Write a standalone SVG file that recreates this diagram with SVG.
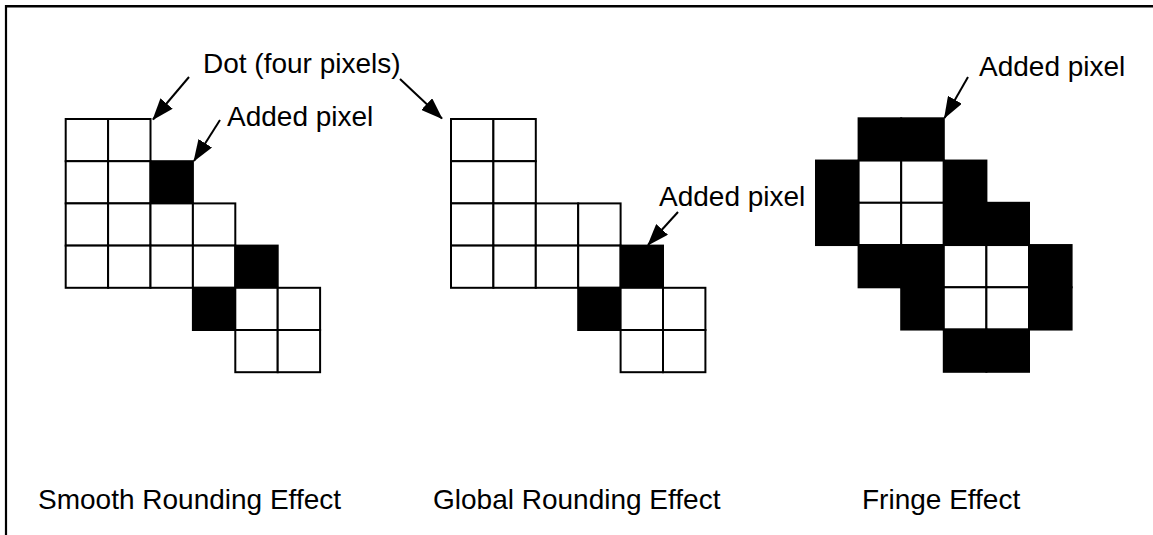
<svg xmlns="http://www.w3.org/2000/svg" width="1153" height="535" viewBox="0 0 1153 535">
<style>
.w{fill:#fff;stroke:#000;stroke-width:2}
.b{fill:#000;stroke:#000;stroke-width:2}
.t{font-family:"Liberation Sans",Arial,Helvetica,sans-serif;font-size:28px;fill:#000}
.c{stroke:#000;stroke-width:2;fill:none}
</style>
<defs>
<marker id="ah" markerUnits="userSpaceOnUse" markerWidth="22" markerHeight="16" viewBox="0 0 22 16" refX="21" refY="8" orient="auto">
<path d="M0,0 L22,8 L0,16 z" fill="#000"/>
</marker>
</defs>
<rect width="1153" height="535" fill="#fff"/>
<g id="frame">
<line x1="5" y1="6.2" x2="1153" y2="6.2" stroke="#000" stroke-width="2.4"/>
<line x1="6" y1="5" x2="6" y2="535" stroke="#000" stroke-width="2.2"/>
</g>
<g id="smooth-grid">
<rect class="w" x="65.7" y="119" width="42.4" height="42.2"/>
<rect class="w" x="108.1" y="119" width="42.4" height="42.2"/>
<rect class="w" x="65.7" y="161.2" width="42.4" height="42.2"/>
<rect class="w" x="108.1" y="161.2" width="42.4" height="42.2"/>
<rect class="b" x="150.5" y="161.2" width="42.4" height="42.2"/>
<rect class="w" x="65.7" y="203.4" width="42.4" height="42.2"/>
<rect class="w" x="108.1" y="203.4" width="42.4" height="42.2"/>
<rect class="w" x="150.5" y="203.4" width="42.4" height="42.2"/>
<rect class="w" x="192.9" y="203.4" width="42.4" height="42.2"/>
<rect class="w" x="65.7" y="245.6" width="42.4" height="42.2"/>
<rect class="w" x="108.1" y="245.6" width="42.4" height="42.2"/>
<rect class="w" x="150.5" y="245.6" width="42.4" height="42.2"/>
<rect class="w" x="192.9" y="245.6" width="42.4" height="42.2"/>
<rect class="b" x="235.3" y="245.6" width="42.4" height="42.2"/>
<rect class="b" x="192.9" y="287.8" width="42.4" height="42.2"/>
<rect class="w" x="235.3" y="287.8" width="42.4" height="42.2"/>
<rect class="w" x="277.7" y="287.8" width="42.4" height="42.2"/>
<rect class="w" x="235.3" y="330" width="42.4" height="42.2"/>
<rect class="w" x="277.7" y="330" width="42.4" height="42.2"/>
</g>
<g id="global-grid">
<rect class="w" x="451" y="119" width="42.4" height="42.2"/>
<rect class="w" x="493.4" y="119" width="42.4" height="42.2"/>
<rect class="w" x="451" y="161.2" width="42.4" height="42.2"/>
<rect class="w" x="493.4" y="161.2" width="42.4" height="42.2"/>
<rect class="w" x="451" y="203.4" width="42.4" height="42.2"/>
<rect class="w" x="493.4" y="203.4" width="42.4" height="42.2"/>
<rect class="w" x="535.8" y="203.4" width="42.4" height="42.2"/>
<rect class="w" x="578.2" y="203.4" width="42.4" height="42.2"/>
<rect class="w" x="451" y="245.6" width="42.4" height="42.2"/>
<rect class="w" x="493.4" y="245.6" width="42.4" height="42.2"/>
<rect class="w" x="535.8" y="245.6" width="42.4" height="42.2"/>
<rect class="w" x="578.2" y="245.6" width="42.4" height="42.2"/>
<rect class="b" x="620.6" y="245.6" width="42.4" height="42.2"/>
<rect class="b" x="578.2" y="287.8" width="42.4" height="42.2"/>
<rect class="w" x="620.6" y="287.8" width="42.4" height="42.2"/>
<rect class="w" x="663" y="287.8" width="42.4" height="42.2"/>
<rect class="w" x="620.6" y="330" width="42.4" height="42.2"/>
<rect class="w" x="663" y="330" width="42.4" height="42.2"/>
</g>
<g id="fringe-grid">
<rect class="b" x="858.6" y="118.3" width="42.6" height="42.25"/>
<rect class="b" x="901.2" y="118.3" width="42.6" height="42.25"/>
<rect class="b" x="816" y="160.55" width="42.6" height="42.25"/>
<rect class="w" x="858.6" y="160.55" width="42.6" height="42.25"/>
<rect class="w" x="901.2" y="160.55" width="42.6" height="42.25"/>
<rect class="b" x="943.8" y="160.55" width="42.6" height="42.25"/>
<rect class="b" x="816" y="202.8" width="42.6" height="42.25"/>
<rect class="w" x="858.6" y="202.8" width="42.6" height="42.25"/>
<rect class="w" x="901.2" y="202.8" width="42.6" height="42.25"/>
<rect class="b" x="943.8" y="202.8" width="42.6" height="42.25"/>
<rect class="b" x="986.4" y="202.8" width="42.6" height="42.25"/>
<rect class="b" x="858.6" y="245.05" width="42.6" height="42.25"/>
<rect class="b" x="901.2" y="245.05" width="42.6" height="42.25"/>
<rect class="w" x="943.8" y="245.05" width="42.6" height="42.25"/>
<rect class="w" x="986.4" y="245.05" width="42.6" height="42.25"/>
<rect class="b" x="1029" y="245.05" width="42.6" height="42.25"/>
<rect class="b" x="901.2" y="287.3" width="42.6" height="42.25"/>
<rect class="w" x="943.8" y="287.3" width="42.6" height="42.25"/>
<rect class="w" x="986.4" y="287.3" width="42.6" height="42.25"/>
<rect class="b" x="1029" y="287.3" width="42.6" height="42.25"/>
<rect class="b" x="943.8" y="329.55" width="42.6" height="42.25"/>
<rect class="b" x="986.4" y="329.55" width="42.6" height="42.25"/>
</g>
<g id="labels">
<text class="t" x="203" y="73">Dot (four pixels)</text>
<text class="t" x="227" y="126">Added pixel</text>
<text class="t" x="659" y="206">Added pixel</text>
<text class="t" x="979" y="76">Added pixel</text>
<text class="t" x="38" y="509">Smooth Rounding Effect</text>
<text class="t" x="433" y="509">Global Rounding Effect</text>
<text class="t" x="862" y="509">Fringe Effect</text>
</g>
<g id="connectors">
<line class="c" x1="189" y1="77" x2="153" y2="119.5" marker-end="url(#ah)"/>
<line class="c" x1="400" y1="79" x2="442" y2="118.5" marker-end="url(#ah)"/>
<line class="c" x1="220" y1="120" x2="194" y2="161" marker-end="url(#ah)"/>
<line class="c" x1="678" y1="212" x2="648" y2="245" marker-end="url(#ah)"/>
<line class="c" x1="968" y1="77" x2="944.5" y2="118" marker-end="url(#ah)"/>
</g>
</svg>
